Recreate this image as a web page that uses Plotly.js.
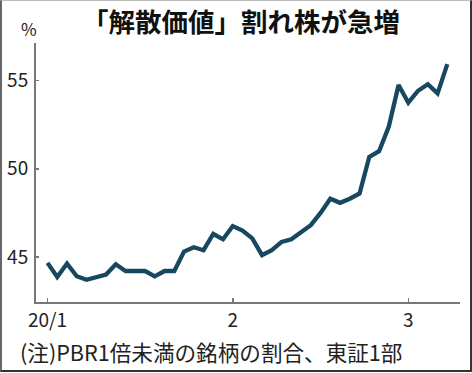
<!DOCTYPE html>
<html>
<head>
<meta charset="utf-8">
<script src="https://cdn.plot.ly/plotly-3.0.1.min.js"></script>
<style>
html,body{margin:0;padding:0;background:#fff;}
#wrap{position:relative;width:472px;height:373px;}
#chart{width:472px;height:373px;}
#frame{position:absolute;left:0;top:0;width:468px;height:369px;border-left:2px solid #666;border-right:2px solid #333;border-bottom:2px solid #333;border-top:1px solid #bbb;pointer-events:none;box-sizing:content-box;}
</style>
</head>
<body>
<div id="wrap"><div id="chart"></div><div id="frame"></div></div>
<script>
// TSE business days, 2020-01-06 .. 2020-03-06
const dates = [
  '2020-01-06','2020-01-07','2020-01-08','2020-01-09','2020-01-10',
  '2020-01-14','2020-01-15','2020-01-16','2020-01-17','2020-01-20',
  '2020-01-21','2020-01-22','2020-01-23','2020-01-24','2020-01-27',
  '2020-01-28','2020-01-29','2020-01-30','2020-01-31',
  '2020-02-03','2020-02-04','2020-02-05','2020-02-06','2020-02-07',
  '2020-02-10','2020-02-12','2020-02-13','2020-02-14','2020-02-17',
  '2020-02-18','2020-02-19','2020-02-20','2020-02-21','2020-02-25',
  '2020-02-26','2020-02-27','2020-02-28',
  '2020-03-02','2020-03-03','2020-03-04','2020-03-05','2020-03-06'
];
// share of stocks with PBR < 1 (%)
const shares = [
  44.66,43.86,44.62,43.90,43.70,43.86,44.00,44.58,44.20,44.20,
  44.20,43.90,44.20,44.20,45.30,45.55,45.38,46.30,46.00,
  46.75,46.50,46.05,45.10,45.38,45.85,46.00,46.42,46.80,47.50,
  48.30,48.07,48.30,48.60,50.68,51.00,52.40,54.76,53.75,
  54.43,54.80,54.28,55.94
];
const xTickVals = ['2020-01-06','2020-02-03','2020-03-02'];
const xTickText = ['20/1','2','3'];
const yTickVals = [45,50,55];

const font = '"Noto Sans CJK JP","Noto Sans",sans-serif';
const trace = {
  x: dates, y: shares, type: 'scatter', mode: 'lines',
  line: {color: '#184760', width: 4.3, shape: 'linear'},
  hoverinfo: 'skip'
};
const layout = {
  width: 472, height: 373,
  margin: {l: 36, r: 12, t: 43, b: 71},
  paper_bgcolor: '#fff', plot_bgcolor: '#fff',
  showlegend: false,
  font: {family: font, color: '#222', size: 19},
  title: {text: '「解散価値」割れ株が急増', font: {family: font, size: 26.5, color: '#111', weight: 'bold'},
          x: 241/472, xanchor: 'center', xref: 'container', y: 0.94, yanchor: 'middle', yref: 'container'},
  xaxis: {
    type: 'category', range: [-1.18, 42.3],
    tickmode: 'array', tickvals: xTickVals, ticktext: xTickText,
    showgrid: false, zeroline: false,
    showline: true, linecolor: '#777', linewidth: 2,
    ticks: 'inside', ticklen: 4, tickwidth: 1.5, tickcolor: '#777',
    tickfont: {family: font, size: 19, color: '#222'}
  },
  yaxis: {
    range: [42.44, 57.14],
    tickmode: 'array', tickvals: yTickVals,
    showgrid: false, zeroline: false,
    showline: true, linecolor: '#777', linewidth: 2,
    ticks: 'inside', ticklen: 3, tickwidth: 1.5, tickcolor: '#777',
    ticklabelstandoff: 2,
    tickfont: {family: font, size: 19, color: '#222'}
  },
  annotations: [
    {text: '%', xref: 'paper', yref: 'paper', x: -0.025, y: 1.0, xanchor: 'center', yanchor: 'bottom',
     xshift: 4, showarrow: false, font: {family: font, size: 17, color: '#222'}},
    {text: '(注)PBR1倍未満の銘柄の割合、東証1部', xref: 'paper', yref: 'paper',
     x: 0, y: -0.155, xanchor: 'left', yanchor: 'top', xshift: -18, yshift: 8,
     showarrow: false, font: {family: font, size: 21.6, color: '#222'}}
  ]
};
Plotly.newPlot('chart', [trace], layout, {staticPlot: true, displayModeBar: false});
</script>
</body>
</html>
